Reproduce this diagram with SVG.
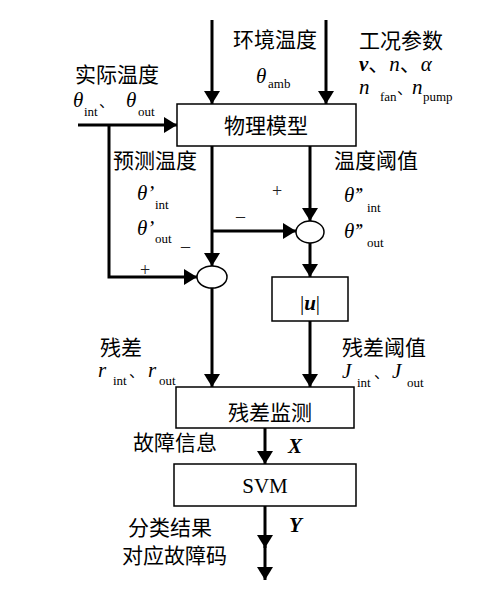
<svg xmlns="http://www.w3.org/2000/svg" width="498" height="598" viewBox="0 0 498 598">
<style>
.bx{fill:#fff;stroke:#000;stroke-width:1.5}
.ln{fill:none;stroke:#000;stroke-width:3;marker-end:url(#ah)}
.zh{font-family:"Liberation Serif","Noto Sans CJK SC",serif;font-size:21px;fill:#000}
.dn{font-family:"Liberation Serif","Noto Sans CJK SC",serif;font-size:15px;fill:#000}
.m{font-family:"Liberation Serif",serif;font-size:21px;font-style:italic;fill:#000}
.mb{font-family:"Liberation Serif",serif;font-size:21px;font-style:italic;font-weight:bold;fill:#000}
.s{font-family:"Liberation Serif",serif;font-size:13px;fill:#000}
.r{font-family:"Liberation Serif",serif;font-size:21px;fill:#000}
.sg{font-family:"Liberation Serif",serif;font-size:18px;fill:#222}
</style>
<defs>
<marker id="ah" viewBox="0 0 13 16" markerWidth="13" markerHeight="16" refX="13" refY="8" orient="auto" markerUnits="userSpaceOnUse">
<path d="M0,0 L13,8 L0,16 z" fill="#000"/>
</marker>
</defs>
<rect width="498" height="598" fill="#fff"/>
<g id="connectors">
<path class="ln" d="M212,20 V104"/>
<path class="ln" d="M326,20 V104"/>
<path class="ln" d="M78,125 H177"/>
<path class="ln" d="M109,125 V277 H197"/>
<path class="ln" d="M212,146 V266"/>
<path class="ln" d="M212,231 H296"/>
<path class="ln" d="M310,146 V221"/>
<path class="ln" d="M310,243 V277"/>
<path class="ln" d="M212,288 V387"/>
<path class="ln" d="M310,321 V387"/>
<path class="ln" d="M265,428 V464"/>
<path class="ln" d="M265,506 V548"/>
<path class="ln" d="M265,546 V580"/>
</g>
<g id="model">
<rect class="bx" x="177" y="104" width="179" height="42"/>
<text class="zh" x="266" y="133" text-anchor="middle">物理模型</text>
</g>
<g id="sum1">
<ellipse class="bx" cx="212" cy="277" rx="15" ry="11"/>
</g>
<g id="sum2">
<ellipse class="bx" cx="310" cy="232" rx="14" ry="11"/>
</g>
<g id="abs">
<rect class="bx" x="272" y="277" width="76" height="44"/>
<text x="310" y="310" text-anchor="middle"><tspan class="r">|</tspan><tspan class="mb">u</tspan><tspan class="r">|</tspan></text>
</g>
<g id="monitor">
<rect class="bx" x="176" y="387" width="178" height="41"/>
<text class="zh" x="270" y="420" text-anchor="middle">残差监测</text>
</g>
<g id="svm">
<rect class="bx" x="174" y="464" width="182" height="42"/>
<text class="r" x="265" y="493" text-anchor="middle">SVM</text>
</g>
<g id="labels">
<text class="zh" x="233" y="47">环境温度</text>
<text class="m" x="256" y="83">θ</text><text class="s" x="268" y="88">amb</text>
<text class="zh" x="359" y="48">工况参数</text>
<text x="359" y="71" font-size="19"><tspan class="mb" font-size="19">v</tspan><tspan class="zh" font-size="19">、</tspan><tspan class="m" font-size="19">n</tspan><tspan class="zh" font-size="19">、</tspan><tspan class="m" font-size="19">α</tspan></text>
<text class="m" x="359" y="94">n</text><text class="s" x="380" y="101">fan</text><text class="dn" x="397" y="94">、</text>
<text class="m" x="412" y="94">n</text><text class="s" x="423" y="101">pump</text>
<text class="zh" x="75" y="82">实际温度</text>
<text class="m" x="73" y="107">θ</text><text class="s" x="84" y="116">int</text><text class="dn" x="99" y="107">、</text>
<text class="m" x="126" y="107">θ</text><text class="s" x="138" y="116">out</text>
<text class="zh" x="113" y="168">预测温度</text>
<text class="m" x="137" y="200">θ’</text><text class="s" x="155" y="209">int</text>
<text class="m" x="137" y="235">θ’</text><text class="s" x="155" y="243">out</text>
<text class="sg" x="181" y="246">_</text>
<text class="sg" x="140" y="276">+</text>
<text class="sg" x="236" y="222">–</text>
<text class="sg" x="272" y="197">+</text>
<text class="zh" x="334" y="168">温度阈值</text>
<text class="m" x="344" y="202" letter-spacing="-1.5">θ’’</text><text class="s" x="367" y="212">int</text>
<text class="m" x="344" y="238" letter-spacing="-1.5">θ’’</text><text class="s" x="367" y="247">out</text>
<text class="zh" x="100" y="355">残差</text>
<text class="m" x="98" y="377" font-size="20">r</text><text class="s" x="113" y="385">int</text><text class="dn" x="129" y="377">、</text>
<text class="m" x="148" y="377" font-size="20">r</text><text class="s" x="159" y="385">out</text>
<text class="zh" x="342" y="355">残差阈值</text>
<text class="m" x="342" y="378">J</text><text class="s" x="357" y="387">int</text><text class="dn" x="374" y="378">、</text>
<text class="m" x="392" y="378">J</text><text class="s" x="407" y="387">out</text>
<text class="zh" x="133" y="450">故障信息</text>
<text class="mb" x="288" y="453">X</text>
<text class="zh" x="128" y="535">分类结果</text>
<text class="mb" x="289" y="532">Y</text>
<text class="zh" x="122" y="563">对应故障码</text>
</g>
</svg>
